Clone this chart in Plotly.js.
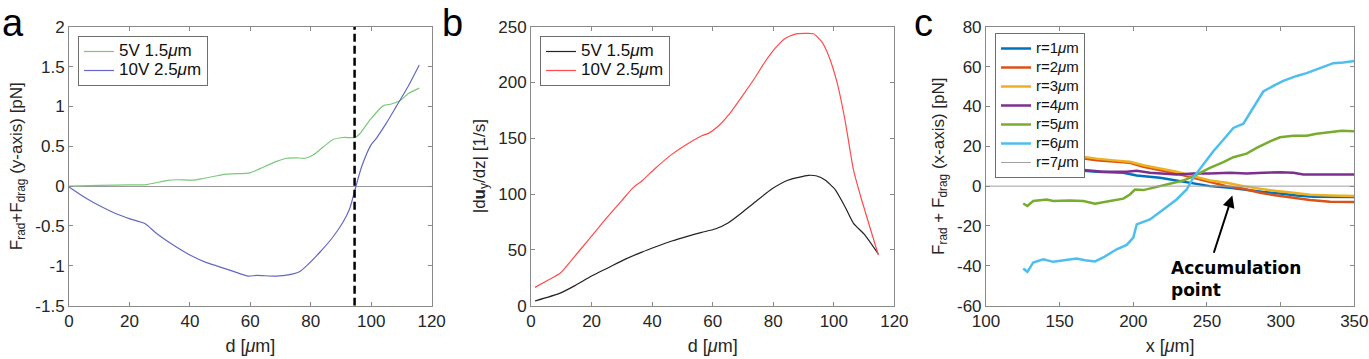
<!DOCTYPE html>
<html>
<head>
<meta charset="utf-8">
<script src="https://cdn.plot.ly/plotly-3.0.1.min.js"></script>
<style>html,body{margin:0;padding:0;background:#fff;}#chart{width:1369px;height:359px;}</style>
</head>
<body>
<div id="chart"></div>
<script>
// ---------- Panel a ----------
const aLegend = ['5V 1.5<i>μ</i>m', '10V 2.5<i>μ</i>m'];
const aX5V = [0, 10, 20, 25.7, 32.3, 35.6, 41, 44.4, 52.1, 59.9, 63.2, 68.7, 72, 75.3, 78, 80.8, 84.1, 87.4, 90.7, 94.6, 96.3, 99.6, 104, 106.7, 109.5, 112.2, 115.9];
const aY5V = [0, 0.01, 0.015, 0.02, 0.07, 0.08, 0.075, 0.096, 0.15, 0.167, 0.22, 0.31, 0.35, 0.355, 0.35, 0.39, 0.49, 0.585, 0.61, 0.61, 0.66, 0.83, 1.01, 1.03, 1.07, 1.16, 1.23];
const aX10V = [0, 5.8, 10.3, 15.8, 20.2, 25.1, 29, 34.5, 40, 45.5, 48.8, 54.4, 59.3, 62.1, 68.7, 74.2, 76.4, 78.6, 83, 87.4, 90.7, 92.9, 94.6, 96.8, 99.9, 101.7, 105, 108.3, 112.2, 115.9];
const aY10V = [-0.01, -0.155, -0.25, -0.35, -0.41, -0.47, -0.595, -0.74, -0.865, -0.96, -1.0, -1.07, -1.13, -1.12, -1.13, -1.10, -1.07, -1.0, -0.83, -0.635, -0.45, -0.28, -0.05, 0.24, 0.515, 0.6, 0.79, 1.0, 1.25, 1.52];
const aDashX = [94.5, 94.5];
const aDashY = [-1.5, 2];
const aXTicks = [0, 20, 40, 60, 80, 100, 120];
const aYTicks = [-1.5, -1, -0.5, 0, 0.5, 1, 1.5, 2];

// ---------- Panel b ----------
const bLegend = ['5V 1.5<i>μ</i>m', '10V 2.5<i>μ</i>m'];
const bX5V = [1.3, 9.4, 14.5, 20, 25.5, 31, 36.6, 41, 46.5, 51.9, 56.4, 60.8, 65.2, 69.6, 74, 79.5, 85, 91.6, 94.4, 97.1, 100.4, 103.7, 106.5, 110.3, 114.7];
const bY5V = [4.2, 11, 18, 26.6, 34, 41.5, 48, 52.6, 58, 62.4, 65.7, 68.7, 74.4, 83.3, 92.9, 104.5, 112.6, 116.8, 116.2, 112.6, 104.2, 88.7, 73.8, 63.3, 46.3];
const bX10V = [1.3, 5.7, 9.6, 13.4, 18.9, 24.4, 29.9, 33.8, 36.6, 41, 46.5, 51.9, 56.4, 58.6, 61.9, 65.2, 69.6, 74, 77.3, 80.6, 83.9, 87.2, 90.5, 93.3, 96, 98.2, 101, 103.7, 106.5, 109.2, 114.7];
const bY10V = [16.4, 23, 29, 40.9, 58.8, 76.8, 94, 106, 111.7, 123, 135.6, 145.4, 152.3, 154.4, 161, 170.7, 187.2, 204.5, 218.6, 230.6, 239.5, 243.4, 244, 243.7, 236.6, 224.6, 200.7, 166.3, 121.6, 94.7, 45.4];
const bXTicks = [0, 20, 40, 60, 80, 100, 120];
const bYTicks = [0, 50, 100, 150, 200, 250];

// ---------- Panel c ----------
const cNames = ['r=1<i>μ</i>m', 'r=2<i>μ</i>m', 'r=3<i>μ</i>m', 'r=4<i>μ</i>m', 'r=5<i>μ</i>m', 'r=6<i>μ</i>m', 'r=7<i>μ</i>m'];
const cX1 = [125.3, 138.9, 161.5, 175.1, 193.2, 202.3, 218.1, 229.4, 240.7, 252, 265.6, 276.9, 288.2, 299.5, 310.9, 322.2, 333.5, 350];
const cY1 = [8.8, 8.8, 8, 7.2, 6.7, 5.3, 4.2, 2.8, 1.3, 0, -0.8, -2, -3, -3.7, -4.7, -5.3, -5.3, -5.5];
const cX2 = [125.3, 145, 164.5, 175.1, 188.7, 197.7, 206.8, 218.1, 229.4, 240.7, 252, 263.3, 274.7, 286, 297.3, 308.6, 319.9, 333.5, 350];
const cY2 = [18, 16, 14.2, 13, 12.2, 11.7, 9.7, 8, 6.3, 4.2, 2, 0, -1.3, -3.3, -4.7, -5.8, -7, -7.8, -8];
const cX3 = [125.3, 145, 164.5, 175.1, 188.7, 197.7, 206.8, 218.1, 229.4, 240.7, 252, 263.3, 274.7, 286, 297.3, 308.6, 319.9, 333.5, 350];
const cY3 = [18.8, 16.8, 15, 13.8, 12.8, 12.2, 10.5, 8.8, 7.2, 5, 2.8, 1.7, 0, -1.3, -2.5, -3.3, -4.3, -4.7, -5];
const cX4 = [125.3, 126.5, 138.9, 152.5, 168.3, 179.6, 195.5, 202.3, 211.3, 229.4, 240.7, 252, 265.6, 276.9, 288.2, 299.5, 308.6, 315.4, 331.2, 350];
const cY4 = [9.2, 8.7, 9.5, 9.2, 8, 7.2, 7.2, 7.7, 6.7, 5.8, 6.3, 6.3, 6.7, 6.3, 6.7, 7, 6.7, 5.8, 5.8, 5.8];
const cX5 = [125.3, 128.1, 132.1, 141.2, 145.7, 157, 166.1, 174, 184.2, 193.2, 197.7, 201.1, 206.8, 215.8, 224.9, 233.9, 243, 252, 261.1, 267.9, 276.9, 283.7, 292.8, 299.5, 308.6, 317.6, 324.4, 333.5, 341.4, 350];
const cY5 = [-8.7, -10, -7.5, -6.7, -7.5, -7.2, -7.5, -8.8, -7.5, -6.3, -4.2, -1.7, -2, -0.5, 1.3, 2.8, 5.8, 9.2, 12, 14.5, 16.3, 19.2, 22.5, 24.5, 25.3, 25.3, 26.3, 27, 27.8, 27.5];
const cX6 = [125.3, 128.1, 132.1, 138.9, 145.7, 154.8, 161.5, 167.2, 174, 179.6, 188.7, 195.5, 200, 202.3, 211.3, 220.4, 229.4, 236.2, 240.7, 247.5, 254.3, 261.1, 267.9, 274.7, 279.2, 283.7, 288.2, 295, 301.8, 310.9, 317.6, 326.7, 335.7, 342.5, 350];
const cY6 = [-41.3, -43, -38.3, -36.7, -38, -37.2, -36.3, -37.2, -37.8, -35.8, -31.7, -29.5, -25.8, -19.2, -16.7, -11.7, -6.7, -1.7, 4.2, 10.8, 17.5, 23.3, 29.2, 31.3, 36.7, 41.7, 47.5, 50.3, 52.8, 55.3, 56.7, 59.2, 61.7, 62, 62.8];
const cX7 = [100, 350];
const cY7 = [0, 0];
const cColors = ['#0072BD', '#D95319', '#EDB120', '#7E2F8E', '#77AC30', '#4DBEEE', '#a0a0a0'];
const cXTicks = [100, 150, 200, 250, 300, 350];
const cYTicks = [-60, -40, -20, 0, 20, 40, 60, 80];
const annotText = '<b>Accumulation<br>point</b>';
const arrowTail = [254.3, -34.2];
const arrowHead = [267.2, -4.7];

const FONT = 'Liberation Sans, Arial, sans-serif';
const tickFont = {family: FONT, size: 17, color: '#262626'};
const titleFont = {family: FONT, size: 17, color: '#262626'};
const xTitleFont = {family: FONT, size: 18, color: '#262626'};

function axis(domain, range, ticks, anchor, extra) {
  return Object.assign({
    domain: domain, range: range, tickvals: ticks, ticktext: ticks.map(String),
    anchor: anchor, showgrid: false, zeroline: false,
    showline: true, linecolor: '#8a8a8a', linewidth: 1, mirror: 'ticks',
    ticks: 'inside', ticklen: 4, tickcolor: '#8a8a8a', tickwidth: 1,
    tickfont: tickFont, fixedrange: true
  }, extra || {});
}
function big(t, px) { return '<span style="font-size:' + px + 'px">' + t + '</span>'; }

const yDom = [0.1485, 0.9256];
const traces = [
  {x: aX5V, y: aY5V, xaxis: 'x', yaxis: 'y', name: big(aLegend[0], 17), mode: 'lines', line: {color: '#79c979', width: 1.2, shape: 'spline', smoothing: 0.6}, legend: 'legend'},
  {x: aX10V, y: aY10V, xaxis: 'x', yaxis: 'y', name: big(aLegend[1], 17), mode: 'lines', line: {color: '#6468c4', width: 1.2, shape: 'spline', smoothing: 0.6}, legend: 'legend'},
  {x: aDashX, y: aDashY, xaxis: 'x', yaxis: 'y', mode: 'lines', showlegend: false, line: {color: '#000', width: 2.5, dash: '8px,4px'}},
  {x: bX5V, y: bY5V, xaxis: 'x2', yaxis: 'y2', name: big(bLegend[0], 17), mode: 'lines', line: {color: '#222', width: 1.2, shape: 'spline', smoothing: 0.5}, legend: 'legend2'},
  {x: bX10V, y: bY10V, xaxis: 'x2', yaxis: 'y2', name: big(bLegend[1], 17), mode: 'lines', line: {color: '#ff4b4b', width: 1.2, shape: 'spline', smoothing: 0.5}, legend: 'legend2'}
];
const cXs = [cX1, cX2, cX3, cX4, cX5, cX6, cX7];
const cYs = [cY1, cY2, cY3, cY4, cY5, cY6, cY7];
for (let i = 0; i < 7; i++) {
  traces.push({x: cXs[i], y: cYs[i], xaxis: 'x3', yaxis: 'y3', name: big(cNames[i], 15), mode: 'lines',
    line: {color: cColors[i], width: i === 6 ? 1 : 2.5}, legend: 'legend3'});
}

const legendBase = {bgcolor: '#fff', bordercolor: '#6e6e6e', borderwidth: 1, xanchor: 'left', yanchor: 'top',
  font: {family: FONT, size: 12, color: '#111'}, itemwidth: 30, tracegroupgap: 0, traceorder: 'normal'};

const layout = {
  width: 1369, height: 359,
  margin: {l: 0, r: 0, t: 0, b: 0},
  paper_bgcolor: '#fff', plot_bgcolor: '#fff',
  xaxis: axis([0.0504, 0.3153], [0, 120], aXTicks, 'y', {title: {text: 'd [<i>μ</i>m]', font: xTitleFont, standoff: 9}}),
  yaxis: axis(yDom, [-1.5, 2], aYTicks, 'x', {zeroline: true, zerolinecolor: '#999', zerolinewidth: 1,
    title: {text: 'F<sub>rad</sub>+F<sub>drag</sub> (y-axis) [pN]', font: titleFont, standoff: 8}}),
  xaxis2: axis([0.3879, 0.6533], [0, 120], bXTicks, 'y2', {title: {text: 'd [<i>μ</i>m]', font: xTitleFont, standoff: 9}}),
  yaxis2: axis(yDom, [0, 250], bYTicks, 'x2', {title: {text: '|d<b>u</b><sub>y</sub>/dz| [1/s]', font: titleFont, standoff: 8}}),
  xaxis3: axis([0.7202, 0.9893], [100, 350], cXTicks, 'y3', {title: {text: 'x [<i>μ</i>m]', font: xTitleFont, standoff: 9}}),
  yaxis3: axis(yDom, [-60, 80], cYTicks, 'x3', {title: {text: 'F<sub>rad</sub> + F<sub>drag</sub> (x-axis) [pN]', font: titleFont, standoff: 8}}),
  legend: Object.assign({}, legendBase, {x: 78 / 1369, y: 1 - 36 / 359}),
  legend2: Object.assign({}, legendBase, {x: 540 / 1369, y: 1 - 36 / 359}),
  legend3: Object.assign({}, legendBase, {x: 995 / 1369, y: 1 - 33 / 359, font: {family: FONT, size: 10.8, color: '#111'}}),
  annotations: [
    {xref: 'paper', yref: 'paper', x: 0, y: 1, xanchor: 'left', yanchor: 'top', text: 'a', showarrow: false, font: {family: FONT, size: 38, color: '#000'}},
    {xref: 'paper', yref: 'paper', x: 440 / 1369, y: 1, xanchor: 'left', yanchor: 'top', text: 'b', showarrow: false, font: {family: FONT, size: 38, color: '#000'}},
    {xref: 'paper', yref: 'paper', x: 912 / 1369, y: 1, xanchor: 'left', yanchor: 'top', text: 'c', showarrow: false, font: {family: FONT, size: 38, color: '#000'}},
    {xref: 'x3', yref: 'y3', axref: 'x3', ayref: 'y3', x: arrowHead[0], y: arrowHead[1], ax: arrowTail[0], ay: arrowTail[1],
      text: '', showarrow: true, arrowhead: 2, arrowsize: 1.2, arrowwidth: 2, arrowcolor: '#000'},
    {xref: 'x3', yref: 'y3', x: 224.4, y: -35.3, xanchor: 'left', yanchor: 'top', align: 'left', text: annotText, showarrow: false,
      font: {family: 'DejaVu Sans, sans-serif', size: 17, color: '#000'}}
  ],
  showlegend: true
};

Plotly.newPlot('chart', traces, layout, {displayModeBar: false, staticPlot: true});
</script>
</body>
</html>
